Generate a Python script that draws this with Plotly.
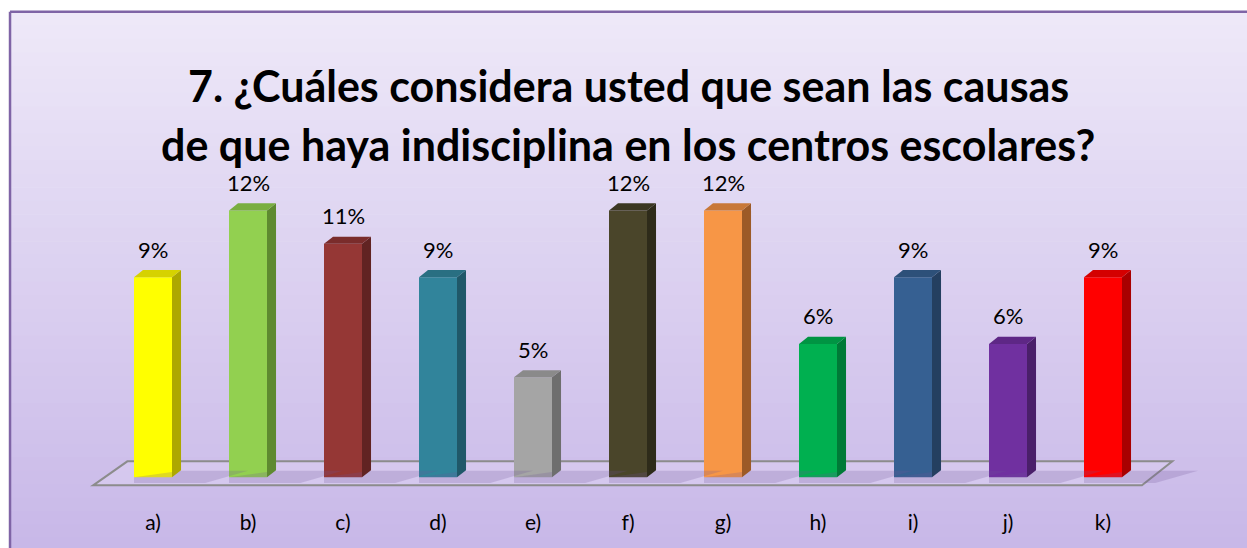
import plotly.graph_objects as go

## Data (percent of answers).
categories = ["a)", "b)", "c)", "d)", "e)", "f)", "g)", "h)", "i)", "j)", "k)"]
values = [9.0, 12.0, 10.5, 9.0, 4.5, 12.0, 12.0, 6.0, 9.0, 6.0, 9.0]
front_colors = ["#FFFF00", "#92D050", "#953735", "#31849B", "#A5A5A5", "#4A452A",
                "#F79646", "#00B050", "#366092", "#7030A0", "#FF0000"]
side_colors = ["#ADA800", "#5E8A30", "#612322", "#205869", "#6E6E6E", "#2E2B1A",
               "#9C5A27", "#007A37", "#243F60", "#4A1F6A", "#A80000"]
top_colors = ["#D6D200", "#79AE40", "#7A2C2B", "#296F82", "#8A8A8A", "#3B3722",
              "#C87838", "#009443", "#2D5079", "#5E2786", "#D40000"]

title_lines = ["7. ¿Cuáles considera usted que sean las causas",
               "de que haya indisciplina en los centros escolares?"]

## Geometry of the fake 3D look (axis units).
bar_w = 0.4
depth_x = 0.095
depth_y = 0.32

xs = list(range(len(categories)))

fig = go.Figure()

## Floor of the 3D chart.
fig.add_shape(type="path",
              path="M -0.63,-0.36 L -0.27,0.72 L 10.73,0.72 L 10.41,-0.36 Z",
              xref="x", yref="y", layer="below",
              fillcolor="rgba(220,208,240,0.55)",
              line=dict(color="#8C8C8C", width=2))

## Soft shadows behind every bar.
for x in xs:
    fig.add_trace(go.Scatter(
        x=[x - bar_w / 2, x + bar_w / 2 + depth_x, x + 1.0, x + 0.55, x - bar_w / 2],
        y=[0, 0.3, 0.3, -0.25, -0.25],
        fill="toself", mode="lines", line=dict(width=0),
        fillcolor="rgba(110,80,150,0.22)", hoverinfo="skip", showlegend=False))

## Front faces.
fig.add_trace(go.Bar(x=xs, y=values, width=bar_w,
                     marker=dict(color=front_colors, line=dict(width=0)),
                     hoverinfo="skip", showlegend=False))

## Side and top faces.
for x, v, sc, tc in zip(xs, values, side_colors, top_colors):
    r = x + bar_w / 2
    l = x - bar_w / 2
    fig.add_trace(go.Scatter(
        x=[r, r + depth_x, r + depth_x, r, r],
        y=[0, depth_y, v + depth_y, v, 0],
        fill="toself", mode="lines", line=dict(width=0),
        fillcolor=sc, hoverinfo="skip", showlegend=False))
    fig.add_trace(go.Scatter(
        x=[l, r, r + depth_x, l + depth_x, l],
        y=[v, v, v + depth_y, v + depth_y, v],
        fill="toself", mode="lines", line=dict(width=0),
        fillcolor=tc, hoverinfo="skip", showlegend=False))

## Data labels.
for x, v in zip(xs, values):
    fig.add_annotation(x=x, y=v, text="%.0f%%" % (v + 0.001),
                       showarrow=False, yanchor="middle", yshift=28,
                       font=dict(family="Lato", size=22, color="black"))

## Gradient background (stacked bands) and the purple frame.
top_rgb = (238, 232, 248)
bot_rgb = (200, 184, 232)
y_top, y_bot = 1.456, -0.14
n_bands = 40
for k in range(n_bands):
    t = k / (n_bands - 1)
    c = tuple(int(round(a + (b - a) * t)) for a, b in zip(top_rgb, bot_rgb))
    y0 = y_top - (y_top - y_bot) * k / n_bands
    y1 = y_top - (y_top - y_bot) * (k + 1) / n_bands
    fig.add_shape(type="rect", xref="paper", yref="paper",
                  x0=-0.0246, x1=1.03, y0=y1 - 0.002, y1=y0,
                  fillcolor="rgb(%d,%d,%d)" % c, line=dict(width=0), layer="below")
fig.add_shape(type="line", xref="paper", yref="paper", x0=-0.0246, x1=1.03,
              y0=y_top, y1=y_top, line=dict(color="#7F64A6", width=2.5))
fig.add_shape(type="line", xref="paper", yref="paper", x0=-0.0246, x1=-0.0246,
              y0=y_top, y1=y_bot, line=dict(color="#7F64A6", width=2.5))

## Title, two lines.
fig.add_annotation(xref="paper", yref="paper", x=0.5, y=1.237, text="<b>%s</b>" % title_lines[0],
                   showarrow=False, yanchor="middle",
                   font=dict(family="Lato", size=43, color="black"))
fig.add_annotation(xref="paper", yref="paper", x=0.5, y=1.065, text="<b>%s</b>" % title_lines[1],
                   showarrow=False, yanchor="middle",
                   font=dict(family="Lato", size=43, color="black"))

fig.update_xaxes(range=[-1.2, 11.2], tickmode="array", tickvals=xs, ticktext=categories,
                 showgrid=False, zeroline=False, showline=False,
                 ticks="outside", ticklen=0, tickcolor="rgba(0,0,0,0)",
                 tickfont=dict(family="Lato", size=21, color="black"))
fig.update_yaxes(range=[-1.2, 14.0], visible=False)

fig.update_layout(width=1247, height=548,
                  margin=dict(l=39, r=30, t=166, b=44),
                  paper_bgcolor="white",
                  plot_bgcolor="rgba(0,0,0,0)",
                  barmode="overlay",
                  showlegend=False)

## Drop the page's default body margin so the figure sits at the window origin.
fig.write_html("out.html",
               config={"displayModeBar": False},
               post_script="document.body.style.margin='0';document.body.style.overflow='hidden';")
